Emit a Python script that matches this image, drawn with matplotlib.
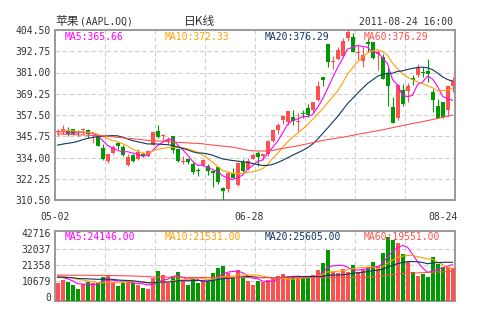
import matplotlib
matplotlib.use("Agg")
import matplotlib.pyplot as plt
import numpy as np
import pandas as pd

# 苹果(AAPL.OQ) 日K线, 2011-05-03 ~ 2011-08-24, 共80根
opens = [
    347.99, 348.40, 348.40, 349.69, 347.86, 348.99, 349.02, 346.12, 345.80, 339.20,
    332.00, 336.47, 342.08, 339.56, 329.97, 335.50, 333.43, 335.97, 334.80, 341.10,
    348.87, 345.90, 342.80, 345.64, 338.44, 331.78, 333.25, 330.55, 326.62, 329.96,
    329.21, 326.71, 328.58, 317.36, 316.68, 325.16, 318.86, 331.37, 327.59, 333.42,
    336.34, 334.70, 335.95, 343.00, 349.24, 354.55, 353.71, 356.35, 353.48, 358.30,
    361.44, 360.00, 365.70, 378.60, 396.67, 386.95, 388.32, 390.35, 400.00, 400.59,
    391.62, 387.12, 397.78, 397.65, 390.98, 389.41, 380.44, 361.69, 356.00, 371.15,
    370.52, 378.07, 379.44, 381.36, 382.05, 370.40, 362.51, 364.51, 360.35, 373.58,
]
highs = [
    349.89, 351.95, 350.95, 350.00, 349.20, 350.58, 350.00, 347.12, 346.25, 341.22,
    336.14, 341.05, 342.41, 340.95, 335.98, 335.90, 338.56, 336.89, 337.63, 347.83,
    352.13, 347.00, 345.30, 345.71, 338.45, 334.80, 333.25, 331.24, 328.29, 333.30,
    330.30, 327.11, 328.69, 317.70, 325.80, 328.00, 331.69, 333.08, 333.90, 336.35,
    337.59, 336.13, 343.50, 349.82, 353.26, 357.57, 359.77, 360.00, 358.62, 360.00,
    363.31, 364.92, 376.36, 378.65, 396.95, 390.25, 395.05, 400.00, 404.50, 402.64,
    395.97, 395.15, 399.50, 397.65, 393.55, 391.32, 383.50, 367.34, 374.61, 374.65,
    375.45, 379.64, 385.93, 384.10, 388.61, 372.05, 366.40, 364.88, 373.64, 378.50,
]
lows = [
    345.62, 347.02, 346.05, 346.21, 345.89, 347.25, 344.94, 342.27, 340.35, 332.60,
    330.73, 336.00, 338.68, 335.02, 329.42, 331.34, 332.85, 334.43, 334.31, 341.00,
    344.65, 343.14, 341.50, 336.40, 331.56, 330.65, 330.49, 325.02, 323.99, 329.20,
    324.49, 317.74, 319.36, 310.50, 315.20, 322.50, 318.12, 325.74, 327.25, 333.01,
    329.24, 332.84, 334.91, 342.50, 347.03, 352.54, 352.18, 352.20, 348.60, 356.04,
    356.40, 358.40, 365.00, 373.56, 384.15, 383.00, 387.70, 389.70, 398.54, 392.20,
    388.17, 384.00, 392.37, 388.35, 382.24, 377.35, 362.57, 353.02, 355.00, 362.50,
    364.72, 374.29, 378.59, 378.47, 375.48, 359.16, 356.03, 355.60, 357.00, 370.14,
]
closes = [
    348.20, 349.57, 346.75, 346.66, 347.60, 349.45, 347.23, 346.57, 340.50, 333.30,
    336.14, 339.87, 340.53, 335.22, 334.40, 332.19, 336.78, 335.00, 337.41, 347.83,
    345.51, 346.10, 343.44, 338.04, 332.04, 332.24, 331.49, 325.90, 326.60, 332.44,
    326.75, 325.16, 320.26, 315.32, 325.30, 322.61, 331.23, 326.35, 332.04, 335.26,
    334.04, 335.67, 343.26, 349.43, 351.76, 357.20, 359.71, 354.00, 353.75, 358.02,
    357.77, 364.92, 373.80, 376.85, 386.90, 387.29, 393.30, 398.50, 403.41, 392.59,
    391.82, 390.48, 396.75, 388.91, 392.57, 377.37, 373.62, 353.21, 374.01, 363.69,
    373.70, 376.99, 383.41, 380.48, 380.44, 366.05, 356.03, 356.44, 373.60, 376.18,
]
volumes = [
    12010, 13810, 12670, 10470, 7800, 10940, 12670, 12010, 11610, 15610,
    16470, 12670, 9800, 11610, 13810, 12010, 10470, 8670, 7800, 14940,
    19810, 17140, 11610, 16470, 19340, 13340, 10470, 16010, 12010, 12270,
    13340, 18680, 21610, 23140, 18280, 15610, 20480, 16010, 13140, 10470,
    13340, 12670, 13810, 14940, 16470, 17810, 16010, 15610, 16010, 14940,
    14940, 17140, 20480, 25350, 33820, 19340, 18680, 20940, 19340, 23810,
    19340, 20940, 22680, 26010, 23140, 31620, 42716, 40490, 38690, 31164,
    25500, 19000, 16200, 17900, 15980, 29500, 24200, 22300, 22800, 21930,
]

# 窗口之前19天的数据, 只用来算开头几根均线
prior_closes = [338.89, 338.04, 338.08, 335.06, 330.80, 332.40, 336.13, 332.42, 327.46, 331.85,
                337.86, 342.41, 350.70, 353.01, 350.42, 350.15, 346.75, 350.13, 346.28]
prior_volumes = [13500, 15200, 14100, 16800, 13900, 14600, 15800, 14300, 16200, 13600,
                 15400, 17900, 16300, 15800, 16100, 18900, 16700, 17300, 17590]

# 60日线从图上读
ma60 = [
    347.0, 346.9, 346.8, 346.7, 346.6, 346.5, 346.3, 346.2, 346.1, 346.0,
    345.7, 345.5, 345.2, 344.9, 344.6, 344.4, 344.1, 343.8, 343.5, 343.3,
    343.2, 343.0, 342.8, 342.6, 342.4, 342.3, 342.1, 341.9, 341.8, 341.6,
    341.2, 340.9, 340.6, 340.3, 340.0, 339.7, 339.2, 338.6, 338.1, 337.7,
    337.6, 337.6, 337.6, 337.9, 338.5, 339.0, 339.5, 340.0, 340.4, 341.0,
    341.6, 342.2, 342.8, 343.4, 343.9, 344.3, 344.8, 345.2, 345.7, 346.2,
    346.8, 347.3, 347.8, 348.3, 348.8, 349.3, 349.9, 350.5, 351.1, 351.6,
    352.2, 352.8, 353.3, 353.8, 354.4, 355.0, 355.6, 356.2, 356.8, 357.4,
]
vol_ma60 = [
    17100, 17080, 17050, 17020, 17000, 16980, 16950, 16920, 16900, 16870,
    16840, 16800, 16750, 16700, 16600, 16500, 16350, 16200, 16050, 15900,
    15800, 15750, 15700, 15650, 15600, 15580, 15560, 15540, 15520, 15500,
    15490, 15480, 15470, 15460, 15450, 15440, 15430, 15420, 15410, 15400,
    15390, 15380, 15370, 15360, 15350, 15340, 15330, 15320, 15320, 15320,
    15330, 15340, 15360, 15380, 15420, 15440, 15460, 15480, 15500, 15520,
    15600, 15700, 15850, 16050, 16250, 16500, 16900, 17300, 17700, 18000,
    18250, 18400, 18550, 18700, 18850, 19050, 19200, 19300, 19420, 19551,
]

price_ticks = [404.50, 392.75, 381.00, 369.25, 357.50, 345.75, 334.00, 322.25, 310.50]
vol_ticks = [0, 10679, 21358, 32037, 42716]
date_labels = ["05-02", "06-28", "08-24"]
date_x = [-0.5, 38.3, 80.1]
date_ha = ["center", "center", "right"]
ma_texts = ["MA5:365.66", "MA10:372.33", "MA20:376.29", "MA60:376.29"]
vol_ma_texts = ["MA5:24146.00", "MA10:21531.00", "MA20:25605.00", "MA60:19551.00"]

RED = "#ff4f4f"
GREEN = "#009a00"
MA_COLORS = ["#ff00ff", "#ffa000", "#0e3766", "#ff5050"]
FRAME = "#999999"
GRID = "#d0d0d0"
TXT = "#333333"
plt.rcParams['font.family'] = ['DejaVu Sans Mono', 'Noto Sans CJK SC']

fig = plt.figure(figsize=(4.8, 3.3), dpi=100)
ax = fig.add_axes([55/480, 130/330, 400/480, 170/330])
axv = fig.add_axes([55/480, 29.3/330, 400/480, 70/330])

x = np.arange(len(closes))
o = np.array(opens)
c = np.array(closes)
up = c >= o
cols = np.where(up, RED, GREEN)

# K线
ax.vlines(x, lows, highs, colors=cols, lw=0.8, zorder=3)
ax.bar(x, np.maximum(np.abs(c - o), 0.55), bottom=np.minimum(o, c), width=0.8,
       color=cols, lw=0, zorder=3)

allc = pd.Series(prior_closes + closes)
for n, col in zip([5, 10, 20], MA_COLORS[:3]):
    ma = allc.rolling(n).mean().values[len(prior_closes):]
    ax.plot(x, ma, color=col, lw=0.8, zorder=4)
ax.plot(x, ma60, color=MA_COLORS[3], lw=0.8, zorder=4)

ax.set_xlim(-0.5, len(x) - 0.5)
ax.set_ylim(price_ticks[-1], price_ticks[0])
ax.set_yticks(price_ticks)
ax.set_yticklabels(["%.2f" % t for t in price_ticks])
ax.set_xticks(np.arange(9.5, len(x) - 1, 10))
ax.set_xticklabels([])
ax.tick_params(length=0, labelsize=7, labelcolor=TXT, pad=3)
ax.grid(True, color=GRID, lw=0.8, ls=(0, (4, 2.5)))
ax.set_axisbelow(True)

for s, col, fx in zip(ma_texts, MA_COLORS, [0.025, 0.275, 0.525, 0.7725]):
    ax.text(fx, 0.96, s, color=col, fontsize=7, transform=ax.transAxes, va="center", zorder=6)

for lab, px, ha in zip(date_labels, date_x, date_ha):
    ax.text(px, -0.1, lab, ha=ha, va="center", fontsize=7, color=TXT,
            transform=ax.get_xaxis_transform())

# 成交量
axv.bar(x, volumes, width=0.8, color=cols, lw=0, zorder=3)
allv = pd.Series(prior_volumes + volumes)
for n, col in zip([5, 10, 20], MA_COLORS[:3]):
    vma = allv.rolling(n).mean().values[len(prior_volumes):]
    axv.plot(x, vma, color=col, lw=0.8, zorder=4)
axv.plot(x, vol_ma60, color=MA_COLORS[3], lw=0.8, zorder=4)
axv.set_xlim(-0.5, len(x) - 0.5)
axv.set_ylim(0, max(volumes) * 70 / 64)
axv.set_yticks([])
axv.set_xticks(np.arange(9.5, len(x) - 1, 10))
axv.set_xticklabels([])
axv.tick_params(length=0)
axv.grid(True, axis="x", color=GRID, lw=0.8, ls=(0, (4, 2.5)))
axv.set_axisbelow(True)

# 刻度文字的位置比柱子的零点高一点
axl = axv.twinx()
axl.set_ylim(-2470, 44251)
axl.yaxis.tick_left()
axl.set_yticks(vol_ticks)
axl.set_yticklabels([str(t) for t in vol_ticks])
axl.tick_params(length=0, labelsize=7, labelcolor=TXT, pad=3)
axl.grid(True, axis="y", color=GRID, lw=0.8, ls=(0, (4, 2.5)))
gl = axl.get_ygridlines()
gl[0].set_visible(False)
gl[-1].set_visible(False)
for sp in axl.spines.values():
    sp.set_visible(False)
axl.set_zorder(axv.get_zorder() - 1)
axv.patch.set_visible(False)

for s, col, fx in zip(vol_ma_texts, MA_COLORS, [0.025, 0.275, 0.525, 0.7725]):
    axv.text(fx, 0.914, s, color=col, fontsize=7, transform=axv.transAxes, va="center", zorder=6)

for a in (ax, axv):
    for sp in a.spines.values():
        sp.set_color(FRAME)
        sp.set_linewidth(1.4)

# 标题行
fig.text(55/480, 1 - 21.7/330, "苹果", fontsize=8.5, color=TXT, va="center",
         family="Noto Sans CJK SC")
fig.text(80/480, 1 - 21.7/330, "(AAPL.OQ)", fontsize=7, color=TXT, va="center")
fig.text(200/480, 1 - 21.7/330, "日K线", fontsize=8.5, color=TXT, va="center", ha="center",
         family="Noto Sans CJK SC")
fig.text(453/480, 1 - 21.7/330, "2011-08-24 16:00", fontsize=7, color=TXT, va="center", ha="right")

fig.savefig("out.png", dpi=100, facecolor="white")
